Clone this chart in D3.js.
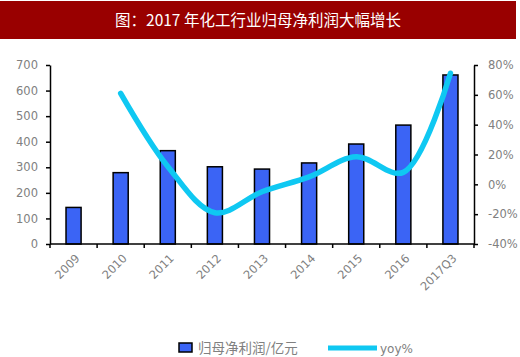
<!DOCTYPE html>
<html><head><meta charset="utf-8">
<script src="https://cdn.jsdelivr.net/npm/d3@7"></script>
<style>
body{margin:0;background:#fff;}
svg{display:block;}
</style></head>
<body><svg id="c" width="520" height="357"></svg>
<script>
const titleText = "图：2017 年化工行业归母净利润大幅增长";
const categories = ["2009","2010","2011","2012","2013","2014","2015","2016","2017Q3"];
const profit = [143, 279, 365, 302, 293, 317, 391, 465, 661];
const yoy = [null, 0.61, 0.12, -0.19, -0.05, 0.05, 0.185, 0.08, 0.745];
const leftTicks = [0,100,200,300,400,500,600,700];
const rightTicks = [-0.4,-0.2,0,0.2,0.4,0.6,0.8];
const seriesNames = ["归母净利润/亿元", "yoy%"];

const svg = d3.select("#c");
const barColor = "#3b64f5", lineColor = "#0fc8f2", tickColor = "#808080";

// title band
svg.append("rect").attr("x",0).attr("y",1).attr("width",516).attr("height",38).attr("fill","#990000");
svg.append("text").attr("x",258).attr("y",26).attr("text-anchor","middle")
  .attr("fill","#fff").attr("font-family","'Noto Sans CJK SC'").attr("font-size",15.5)
  .text(titleText);

const x = d3.scaleBand().domain(categories).range([50,474]).paddingInner(0.68).paddingOuter(0.34);
const yL = d3.scaleLinear().domain([0,700]).range([244,65]);
const yR = d3.scaleLinear().domain([-0.4,0.8]).range([244,65]);

// bars
svg.append("g").selectAll("rect").data(categories).join("rect")
  .attr("x", d=>x(d)).attr("width", x.bandwidth())
  .attr("y", (d,i)=>yL(profit[i])).attr("height",(d,i)=>yL(0)-yL(profit[i]))
  .attr("fill", barColor).attr("stroke","#000").attr("stroke-width",1.5);

// line
const pts = categories.map((c,i)=>({c, v:yoy[i]})).filter(p=>p.v!==null);
svg.append("path").datum(pts)
  .attr("d", d3.line().x(p=>x(p.c)+x.bandwidth()/2).y(p=>yR(p.v)).curve(d3.curveCatmullRom.alpha(0.5)))
  .attr("fill","none").attr("stroke",lineColor).attr("stroke-width",5.5).attr("stroke-linecap","round");

const font = "'DejaVu Sans', Verdana, sans-serif";
// left axis
const gL = svg.append("g").attr("transform","translate(50,0)")
  .call(d3.axisLeft(yL).tickValues(leftTicks).tickSize(4).tickPadding(8).tickSizeOuter(0));
// right axis
const gR = svg.append("g").attr("transform","translate(474,0)")
  .call(d3.axisRight(yR).tickValues(rightTicks).tickSize(4).tickPadding(10).tickSizeOuter(0)
  .tickFormat(d=>Math.round(d*100)+"%"));
[gL,gR].forEach(g=>{
  g.select(".domain").attr("stroke","#000").attr("stroke-width",1.5);
  g.selectAll(".tick line").attr("stroke","#000").attr("stroke-width",1.5);
  g.selectAll(".tick text").attr("fill",tickColor).attr("font-family",font).attr("font-size",11.5);
});

// x axis
const gX = svg.append("g");
gX.append("line").attr("x1",50).attr("x2",474).attr("y1",yL(0)).attr("y2",yL(0)).attr("stroke","#000").attr("stroke-width",1.5);
const bounds = categories.map(c=>x(c)+x.bandwidth()/2-x.step()/2).concat([x(categories[categories.length-1])+x.bandwidth()/2+x.step()/2]);
gX.selectAll("line.t").data(bounds).join("line").attr("class","t")
  .attr("x1",d=>d).attr("x2",d=>d).attr("y1",yL(0)).attr("y2",yL(0)+4).attr("stroke","#000").attr("stroke-width",1.5);
gX.selectAll("text").data(categories).join("text")
  .attr("transform", d=>`translate(${x(d)+x.bandwidth()/2+7},${yL(0)+15}) rotate(-45)`)
  .attr("text-anchor","end").attr("fill",tickColor).attr("font-family",font).attr("font-size",11.5)
  .text(d=>d);

// legend
const lg = svg.append("g");
lg.append("rect").attr("x",179).attr("y",343).attr("width",13).attr("height",9)
  .attr("fill",barColor).attr("stroke","#000").attr("stroke-width",1.5);
lg.append("text").attr("x",198).attr("y",353).attr("fill",tickColor)
  .attr("font-family","'Noto Sans CJK SC'").attr("font-size",13.5).text(seriesNames[0]);
lg.append("line").attr("x1",328).attr("x2",377).attr("y1",348).attr("y2",348)
  .attr("stroke",lineColor).attr("stroke-width",5);
lg.append("text").attr("x",380).attr("y",353).attr("fill",tickColor)
  .attr("font-family",font).attr("font-size",12).text(seriesNames[1]);
</script></body></html>
